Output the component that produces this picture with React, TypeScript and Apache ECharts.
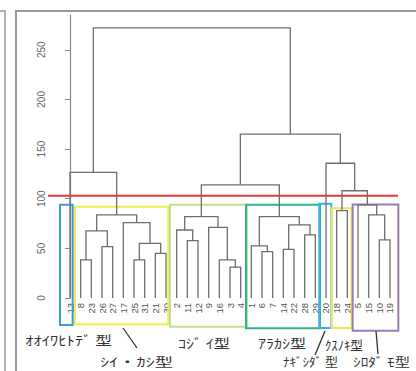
import React, { useEffect, useRef } from "react";
import * as echarts from "echarts";

// ---- data ----
const leafLabels = ["13","8","23","26","27","17","25","31","21","30","2","11","12","9","16","3","4","1","6","7","14","22","28","29","20","18","24","5","15","10","19"];

// hclust-style merges: negative = leaf number, positive = earlier merge step (1-based)
const mergeLeft = [-3,-8,-25,-16,-21,-6,-14,-26,-1,3,-11,-10,-28,2,-2,-9,7,-17,15,9,14,-15,-18,-5,23,19,-13,-20,26,27];
const mergeRight = [-4,-23,-31,1,-30,-7,-22,-27,6,5,-12,-19,-29,8,11,4,13,10,16,17,18,12,-24,22,24,20,21,25,28,29];
const mergeHeight = [31,38.3,38.3,38.3,45,46.7,49,51.7,52.4,55,57.8,58.5,63.5,67.5,68.5,71.2,73.6,76,82,82,83.7,83.7,88,93.8,108,114,126.5,135.7,165,272];

const cutHeight = 103;
const yTicks = [0, 50, 100, 150, 200, 250];

const groupNames = ["ｵｵｲﾜﾋﾄﾃﾞ 型", "ｼｲ・ｶｼ型", "ｺｼﾞ ｲ型", "ｱﾗｶｼ型", "ﾅｷﾞｼﾀﾞ 型", "ｸｽﾉｷ型", "ｼﾛﾀﾞ ﾓ型"];
const groupFirstLeaf = ["13", "8", "2", "1", "20", "18", "5"];
const groupLastLeaf = ["13", "30", "4", "29", "20", "24", "19"];

// ---- styling / layout ----
const boxStyles = [
  { color: "#3f9ad6", padL: 0.94, padR: 0.25, top: 93.8, bottom: -27.2 },
  { color: "#eeee48", padL: 0.53, padR: 0.22, top: 92, bottom: -26.5 },
  { color: "#c4e08c", padL: 0.625, padR: 0.6, top: 93.8, bottom: -28.9 },
  { color: "#2fb58a", padL: 0.5, padR: 0.44, top: 93.8, bottom: -30.5 },
  { color: "#38b4e4", padL: 0.63, padR: 0.5, top: 94.8, bottom: -30.2 },
  { color: "#f0e45a", padL: 0.47, padR: 0.4, top: 90.4, bottom: -30.2 },
  { color: "#9a7cb8", padL: 0.5, padR: 0.78, top: 94.2, bottom: -33 },
];

const labelLayout = [
  { x: 25, y: 339, w: 87, fs: 13 },
  { x: 100, y: 362, w: 73, fs: 12 },
  { x: 178, y: 342, w: 52, fs: 13 },
  { x: 258, y: 342, w: 48, fs: 13 },
  { x: 283, y: 362, w: 55, fs: 12 },
  { x: 325, y: 344, w: 38, fs: 13 },
  { x: 353, y: 362, w: 57, fs: 12 },
];

const leaderLines = [
  [[123, 328], [137, 348]],
  [[325, 331], [315, 355]],
  [[376, 331], [378, 354]],
];

const leafIndex = (label: string | number) => leafLabels.indexOf(String(label));

const nodeX: number[] = [];
const nodeH: number[] = [];
const childPos = (c: number): [number, number] =>
  c < 0 ? [leafIndex(-c), 0] : [nodeX[c - 1], nodeH[c - 1]];
const mergeData = mergeHeight.map((h, i) => {
  const [xl, hl] = childPos(mergeLeft[i]);
  const [xr, hr] = childPos(mergeRight[i]);
  nodeX[i] = (xl + xr) / 2;
  nodeH[i] = h;
  return [xl, hl, xr, hr, h];
});

const boxData = groupNames.map((_, i) => [
  leafIndex(groupFirstLeaf[i]) - boxStyles[i].padL,
  leafIndex(groupLastLeaf[i]) + boxStyles[i].padR,
  boxStyles[i].top,
  boxStyles[i].bottom,
]);

const JP_FONT = '"Noto Sans CJK JP", sans-serif';

function measure(text: string, size: number) {
  const c = document.createElement("canvas").getContext("2d");
  if (!c) return text.length * size * 0.6;
  c.font = `${size}px "Noto Sans CJK JP"`;
  return c.measureText(text).width;
}

export default function App() {
  const ref = useRef<HTMLDivElement>(null);
  useEffect(() => {
    if (!ref.current) return;
    const chart = echarts.init(ref.current, undefined, { renderer: "svg" });
    const texts = groupNames.map((t, i) => {
      const L = labelLayout[i];
      const w = measure(t, L.fs);
      return {
        type: "text",
        x: L.x,
        y: L.y,
        scaleX: L.w / w,
        style: { text: t, font: `${L.fs}px ${JP_FONT}`, fill: "#333", textVerticalAlign: "middle", textAlign: "left" },
        z: 10,
      };
    });
    const lines = leaderLines.map((p) => ({
      type: "line",
      shape: { x1: p[0][0], y1: p[0][1], x2: p[1][0], y2: p[1][1] },
      style: { stroke: "#333", lineWidth: 1.3 },
      z: 10,
    }));
    const option: any = {
      animation: false,
      grid: { left: 64.67, right: 20.67, top: 15, bottom: 73, outerBoundsMode: "none" },
      xAxis: [
        {
          type: "category",
          data: leafLabels,
          position: "bottom",
          axisLine: { show: false },
          axisTick: { show: false },
          axisLabel: { interval: 0, rotate: 90, fontSize: 9.5, color: "#555", margin: 5, fontFamily: "Liberation Sans" },
        },
        { type: "value", min: -0.5, max: 30.5, show: false },
      ],
      yAxis: {
        type: "value",
        min: 0,
        max: 285,
        offset: 9.67,
        splitLine: { show: false },
        axisLine: { show: true, lineStyle: { color: "#888", width: 1.2 } },
        axisTick: { show: true, length: 5, customValues: yTicks, lineStyle: { color: "#888" } },
        axisLabel: { customValues: yTicks, rotate: 90, fontSize: 10, color: "#666", margin: 9, fontFamily: "Liberation Sans" },
      },
      series: [
        {
          type: "custom",
          xAxisIndex: 1,
          clip: false,
          data: boxData,
          encode: { x: [0, 1], y: [2, 3] },
          renderItem: (params: any, api: any) => {
            const a = api.coord([api.value(0), api.value(2)]);
            const b = api.coord([api.value(1), api.value(3)]);
            return {
              type: "rect",
              shape: { x: a[0], y: a[1], width: b[0] - a[0], height: b[1] - a[1] },
              style: { fill: "none", stroke: boxStyles[params.dataIndex].color, lineWidth: 2 },
            };
          },
        },
        {
          type: "custom",
          xAxisIndex: 1,
          clip: false,
          data: mergeData,
          encode: { x: [0, 2], y: [1, 3, 4] },
          renderItem: (params: any, api: any) => {
            const xl = api.value(0), hl = api.value(1), xr = api.value(2), hr = api.value(3), h = api.value(4);
            return {
              type: "polyline",
              shape: { points: [api.coord([xl, hl]), api.coord([xl, h]), api.coord([xr, h]), api.coord([xr, hr])] },
              style: { stroke: "#6e6e6e", lineWidth: 1.3, fill: "none" },
            };
          },
        },
        {
          type: "custom",
          xAxisIndex: 1,
          clip: false,
          data: [[-2.06, 30.75, cutHeight]],
          encode: { x: [0, 1], y: 2 },
          renderItem: (params: any, api: any) => {
            const a = api.coord([api.value(0), api.value(2)]);
            const b = api.coord([api.value(1), api.value(2)]);
            return {
              type: "line",
              shape: { x1: a[0], y1: a[1], x2: b[0], y2: b[1] },
              style: { stroke: "#e23a3a", lineWidth: 2 },
            };
          },
        },
      ],
      graphic: [
        {
          type: "polyline",
          shape: { points: [[0, 11], [5, 11], [5, 371]] },
          style: { stroke: "#999", lineWidth: 1.5, fill: "none" },
        },
        {
          type: "polyline",
          shape: { points: [[16, 371], [16, 11], [416, 11]] },
          style: { stroke: "#999", lineWidth: 2, fill: "none" },
        },
        ...texts,
        ...lines,
      ],
    };
    chart.setOption(option);
    return () => chart.dispose();
  }, []);
  return (
    <div
      ref={ref}
      style={{ position: "fixed", left: 0, top: 0, width: 416, height: 371, background: "#fff" }}
    />
  );
}
